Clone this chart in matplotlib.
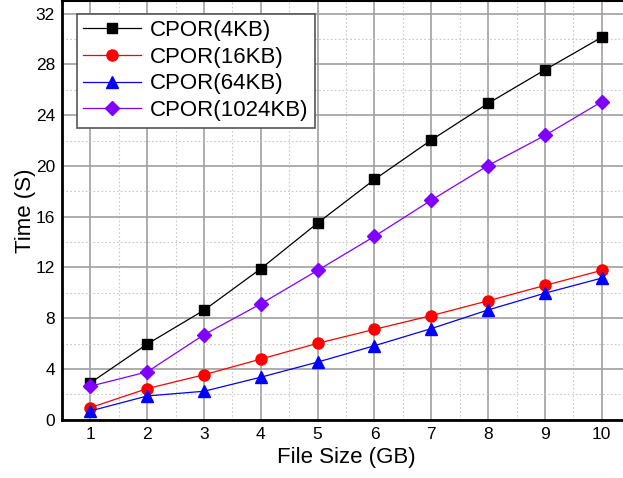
import matplotlib
matplotlib.use("Agg")
import matplotlib.pyplot as plt
from matplotlib.ticker import MultipleLocator

plt.rcParams['font.family'] = ['Liberation Sans', 'DejaVu Sans']

file_size = [1, 2, 3, 4, 5, 6, 7, 8, 9, 10]
cpor_4kb = [2.9, 5.96, 8.63, 11.9, 15.5, 18.93, 22.04, 24.93, 27.57, 30.14]
cpor_16kb = [0.95, 2.45, 3.54, 4.78, 6.02, 7.12, 8.2, 9.37, 10.58, 11.77]
cpor_64kb = [0.69, 1.87, 2.24, 3.35, 4.54, 5.83, 7.18, 8.65, 9.97, 11.16]
cpor_1024kb = [2.64, 3.77, 6.7, 9.13, 11.77, 14.45, 17.3, 20.03, 22.4, 25.06]

series = [
    ("CPOR(4KB)", cpor_4kb, "black", "s", 7),
    ("CPOR(16KB)", cpor_16kb, "#ff0000", "o", 8),
    ("CPOR(64KB)", cpor_64kb, "#0000ff", "^", 8),
    ("CPOR(1024KB)", cpor_1024kb, "#8000ff", "D", 7),
]

fig = plt.figure(figsize=(6.23, 4.78), dpi=100)
ax = fig.add_axes([0.0995, 0.122, 0.912, 0.876])

for label, vals, color, marker, ms in series:
    ax.plot(file_size, vals, color=color, lw=0.9, marker=marker, markersize=ms,
            markeredgecolor=color, markerfacecolor=color, label=label, zorder=3)

ax.set_xlim(0.5, 10.5)
ax.set_ylim(0, 33)
ax.xaxis.set_major_locator(MultipleLocator(1))
ax.xaxis.set_minor_locator(MultipleLocator(0.5))
ax.yaxis.set_major_locator(MultipleLocator(4))
ax.yaxis.set_minor_locator(MultipleLocator(2))
ax.grid(which='major', color='#a0a0a0', lw=1.2, ls='-')
ax.grid(which='minor', color='#c8c8c8', lw=0.8, ls=(0, (1.5, 2)))
ax.set_axisbelow(True)
ax.tick_params(which='both', length=0, labelsize=12.5, pad=5)

for side in ['left', 'bottom']:
    ax.spines[side].set_linewidth(2)
ax.spines['top'].set_linewidth(1.5)

ax.set_xlabel("File Size (GB)", fontsize=16, labelpad=4)
ax.set_ylabel("Time (S)", fontsize=16, labelpad=0)

leg = ax.legend(loc='upper left', bbox_to_anchor=(0.026, 0.97), fontsize=16,
                frameon=True, fancybox=False, edgecolor='#555555', framealpha=1,
                handlelength=2.6, borderpad=0.3, labelspacing=0.25, handletextpad=0.4,
                borderaxespad=0)
leg.get_frame().set_linewidth(1.2)

fig.savefig("out.png", dpi=100)
